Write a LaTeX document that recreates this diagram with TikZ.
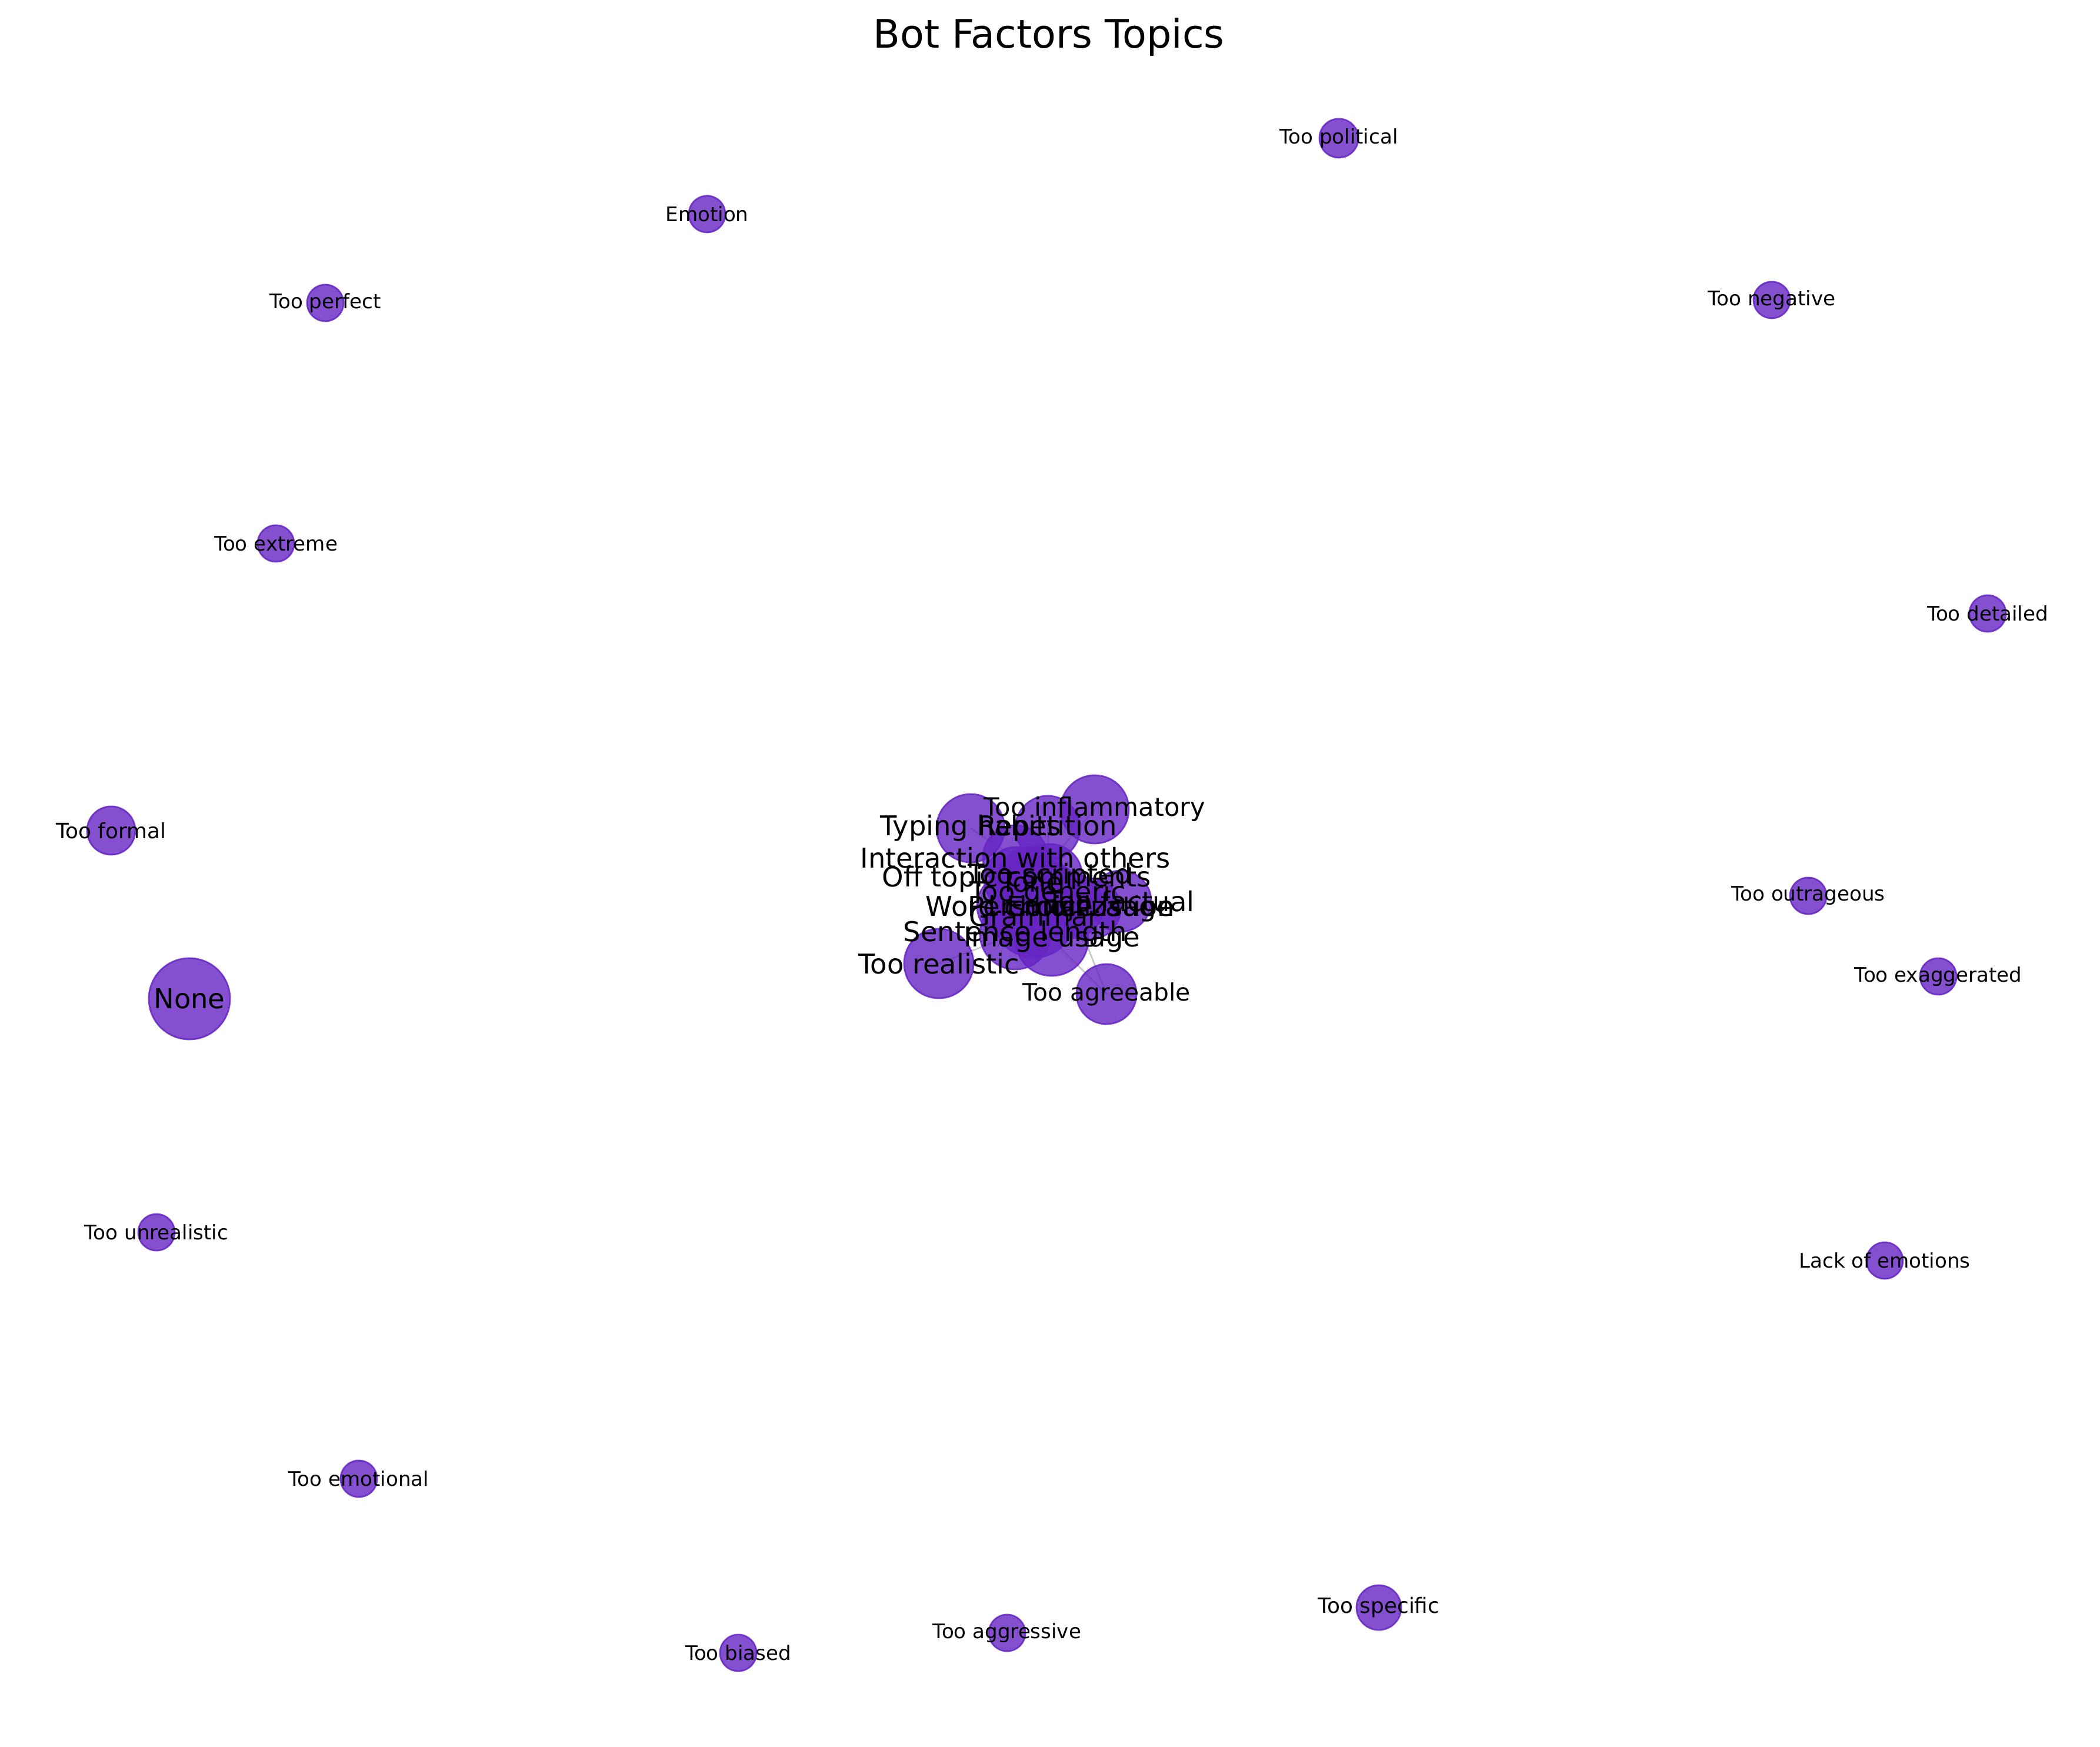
\documentclass[tikz,border=0pt]{standalone}
\usepackage{fontspec}
\setmainfont{DejaVu Sans}
\definecolor{nodepurple}{RGB}{102,36,196}
\begin{document}
\begin{tikzpicture}[
  topic/.style={circle, inner sep=0pt, minimum size=#1, fill=nodepurple, draw=nodepurple,
    fill opacity=0.8, draw opacity=0.85, line width=0.8pt},
  link/.style={draw=black!30, opacity=0.7, line width=0.8pt},
  small/.style={font=\fontsize{9.7}{11}\selectfont, inner sep=0pt},
  mid/.style={font=\fontsize{10.2}{12}\selectfont, inner sep=0pt},
  big/.style={font=\fontsize{13.2}{15}\selectfont, inner sep=0pt}
]
\useasboundingbox (0,0) rectangle (35.7,29.7);
\node[font=\fontsize{19}{21}\selectfont, anchor=base, inner sep=0pt] (title) at (17.83,28.88) {Bot Factors Topics};
% positions of the topics
\path coordinate (pol) at (22.76,27.35)
coordinate (emo) at (12.02,26.06)
coordinate (perf) at (5.53,24.55)
coordinate (neg) at (30.12,24.60)
coordinate (extr) at (4.69,20.46)
coordinate (det) at (33.79,19.27)
coordinate (form) at (1.89,15.58)
coordinate (none) at (3.22,12.72)
coordinate (outr) at (30.74,14.47)
coordinate (exag) at (32.95,13.10)
coordinate (unreal) at (2.66,8.75)
coordinate (lack) at (32.04,8.27)
coordinate (emot) at (6.10,4.56)
coordinate (spec) at (23.44,2.37)
coordinate (aggr) at (17.12,1.94)
coordinate (bias) at (12.55,1.60)
coordinate (infl) at (18.61,15.94)
coordinate (typ) at (16.50,15.62)
coordinate (rep) at (17.81,15.62)
coordinate (inter) at (17.26,15.12)
coordinate (off) at (17.28,14.75)
coordinate (scr) at (17.85,14.80)
coordinate (tone) at (17.54,14.70)
coordinate (gen) at (17.81,14.50)
coordinate (fact) at (19.05,14.38)
coordinate (word) at (17.16,14.30)
coordinate (pers) at (18.21,14.30)
coordinate (emoji) at (18.53,14.25)
coordinate (gram) at (17.58,14.12)
coordinate (sent) at (17.26,13.82)
coordinate (img) at (17.88,13.73)
coordinate (real) at (15.96,13.32)
coordinate (agr) at (18.81,12.80)
;
% edges
\draw[link] (typ) -- (inter);
\draw[link] (infl) -- (tone);
\draw[link] (real) -- (sent);
\draw[link] (agr) -- (img);
\draw[link] (agr) -- (pers);
\draw[link] (rep) -- (scr);
\draw[link] (inter) -- (off);
\draw[link] (gen) -- (gram);
\draw[link] (word) -- (sent);
\draw[link] (pers) -- (emoji);
\draw[link] (fact) -- (emoji);
% circles
\path node[topic=0.66cm] (pol-c) at (pol) {}
node[topic=0.62cm] (emo-c) at (emo) {}
node[topic=0.62cm] (perf-c) at (perf) {}
node[topic=0.62cm] (neg-c) at (neg) {}
node[topic=0.62cm] (extr-c) at (extr) {}
node[topic=0.62cm] (det-c) at (det) {}
node[topic=0.82cm] (form-c) at (form) {}
node[topic=1.38cm] (none-c) at (none) {}
node[topic=0.62cm] (outr-c) at (outr) {}
node[topic=0.62cm] (exag-c) at (exag) {}
node[topic=0.62cm] (unreal-c) at (unreal) {}
node[topic=0.62cm] (lack-c) at (lack) {}
node[topic=0.62cm] (emot-c) at (emot) {}
node[topic=0.76cm] (spec-c) at (spec) {}
node[topic=0.62cm] (aggr-c) at (aggr) {}
node[topic=0.62cm] (bias-c) at (bias) {}
node[topic=1.16cm] (infl-c) at (infl) {}
node[topic=1.16cm] (typ-c) at (typ) {}
node[topic=1.10cm] (rep-c) at (rep) {}
node[topic=1.10cm] (inter-c) at (inter) {}
node[topic=1.10cm] (off-c) at (off) {}
node[topic=1.10cm] (scr-c) at (scr) {}
node[topic=1.20cm] (tone-c) at (tone) {}
node[topic=1.10cm] (gen-c) at (gen) {}
node[topic=1.04cm] (fact-c) at (fact) {}
node[topic=1.10cm] (word-c) at (word) {}
node[topic=1.10cm] (pers-c) at (pers) {}
node[topic=1.04cm] (emoji-c) at (emoji) {}
node[topic=1.40cm] (gram-c) at (gram) {}
node[topic=1.20cm] (sent-c) at (sent) {}
node[topic=1.24cm] (img-c) at (img) {}
node[topic=1.18cm] (real-c) at (real) {}
node[topic=1.02cm] (agr-c) at (agr) {}
;
% labels
\path node[small] (pol-t) at (pol) {Too political}
node[small] (emo-t) at (emo) {Emotion}
node[small] (perf-t) at (perf) {Too perfect}
node[small] (neg-t) at (neg) {Too negative}
node[small] (extr-t) at (extr) {Too extreme}
node[small] (det-t) at (det) {Too detailed}
node[mid] (form-t) at (form) {Too formal}
node[big] (none-t) at (none) {None}
node[small] (outr-t) at (outr) {Too outrageous}
node[small] (exag-t) at (exag) {Too exaggerated}
node[small] (unreal-t) at (unreal) {Too unrealistic}
node[small] (lack-t) at (lack) {Lack of emotions}
node[small] (emot-t) at (emot) {Too emotional}
node[mid] (spec-t) at (spec) {Too specific}
node[small] (aggr-t) at (aggr) {Too aggressive}
node[small] (bias-t) at (bias) {Too biased}
node[big, font=\fontsize{12.3}{14}\selectfont] (infl-t) at (infl) {Too inflammatory}
node[big] (typ-t) at (typ) {Typing habits}
node[big] (rep-t) at (rep) {Repetition}
node[big] (inter-t) at (inter) {Interaction with others}
node[big] (off-t) at (off) {Off topic comments}
node[big] (scr-t) at (scr) {Too scripted}
node[big] (tone-t) at (tone) {Tone}
node[big] (gen-t) at (gen) {Too generic}
node[big] (fact-t) at (fact) {Too factual}
node[big] (word-t) at (word) {Word choice}
node[big] (pers-t) at (pers) {Personalization}
node[big] (emoji-t) at (emoji) {Emoji usage}
node[big] (gram-t) at (gram) {Grammar}
node[big] (sent-t) at (sent) {Sentence length}
node[big] (img-t) at (img) {Image usage}
node[big] (real-t) at (real) {Too realistic}
node[big, font=\fontsize{11.6}{13}\selectfont] (agr-t) at (agr) {Too agreeable}
;
\end{tikzpicture}
\end{document}
